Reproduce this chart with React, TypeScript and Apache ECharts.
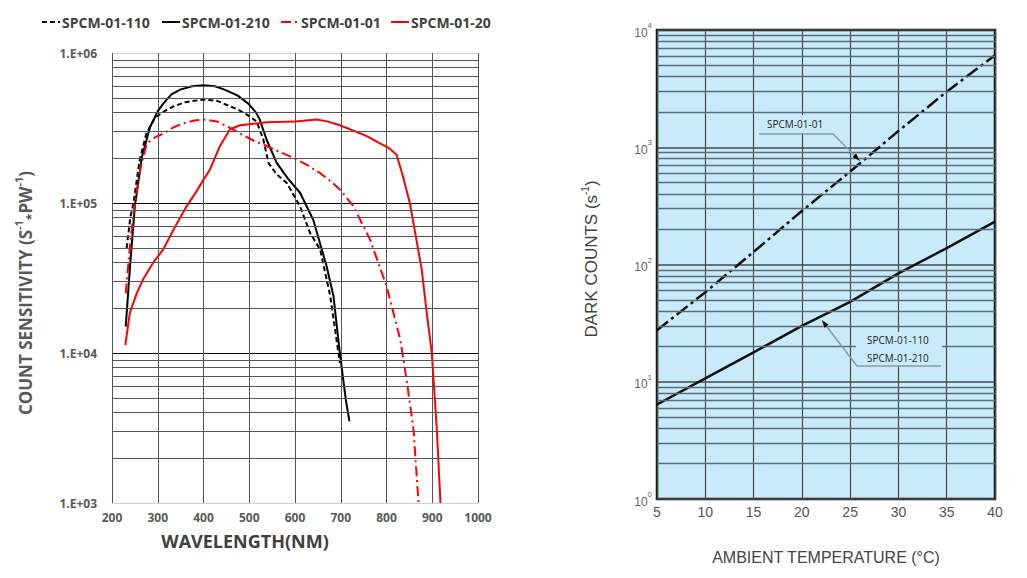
import React, { useEffect, useRef } from 'react';
import * as echarts from 'echarts';

// ---------- Left chart: count sensitivity vs wavelength ----------
const LEGEND_NAMES = ['SPCM-01-110', 'SPCM-01-210', 'SPCM-01-01', 'SPCM-01-20'];

const WL_110 = [232, 240, 247, 260, 275, 294, 315, 334, 360, 400, 430, 451, 475, 494, 516, 531, 542, 560, 582, 611, 633, 655, 677, 695, 698];
const CS_110 = [5.0e4, 8.0e4, 1.0e5, 1.9e5, 2.9e5, 3.7e5, 4.1e5, 4.4e5, 4.7e5, 4.9e5, 4.8e5, 4.5e5, 4.2e5, 3.9e5, 3.5e5, 2.64e5, 1.85e5, 1.55e5, 1.36e5, 9.5e4, 6.3e4, 4.9e4, 2.4e4, 1.0e4, 8.6e3];

const WL_210 = [230, 240, 250, 265, 283, 300, 312, 330, 349, 375, 400, 425, 446, 475, 498, 515, 523, 538, 560, 585, 611, 640, 669, 684, 698, 711, 719];
const CS_210 = [1.5e4, 4.0e4, 9.5e4, 2.0e5, 3.2e5, 4.1e5, 4.6e5, 5.3e5, 5.7e5, 6.0e5, 6.1e5, 6.0e5, 5.7e5, 5.2e5, 4.6e5, 4.0e5, 3.6e5, 2.64e5, 1.85e5, 1.45e5, 1.17e5, 7.7e4, 3.8e4, 2.4e4, 1.0e4, 4.9e3, 3.5e3];

const WL_01 = [230, 240, 250, 262, 276, 295, 312, 335, 356, 380, 400, 429, 455, 480, 510, 538, 565, 596, 625, 655, 680, 698, 728, 764, 800, 830, 844, 859, 870];
const CS_01 = [2.5e4, 5.5e4, 1.0e5, 1.7e5, 2.5e5, 2.75e5, 2.9e5, 3.2e5, 3.4e5, 3.55e5, 3.6e5, 3.5e5, 3.2e5, 2.9e5, 2.6e5, 2.4e5, 2.2e5, 2.0e5, 1.8e5, 1.58e5, 1.38e5, 1.23e5, 9.5e4, 5.7e4, 2.8e4, 1.23e4, 6.6e3, 3.1e3, 1.0e3];

const WL_20 = [229, 239, 254, 268, 290, 312, 334, 363, 385, 400, 414, 436, 458, 480, 538, 600, 647, 670, 698, 756, 807, 822, 836, 851, 864, 877, 888, 899, 910, 918];
const CS_20 = [1.13e4, 1.85e4, 2.5e4, 3.1e4, 4.0e4, 4.9e4, 6.6e4, 9.5e4, 1.2e5, 1.43e5, 1.67e5, 2.4e5, 3.1e5, 3.3e5, 3.45e5, 3.5e5, 3.6e5, 3.5e5, 3.3e5, 2.8e5, 2.3e5, 2.1e5, 1.5e5, 1.0e5, 6.0e4, 3.6e4, 1.85e4, 1.0e4, 3.1e3, 1.0e3];

const LEFT_DECADES = [1e3, 1e4, 1e5];

// ---------- Right chart: dark counts vs temperature ----------
const TEMP = [5, 10, 15, 20, 25, 30, 35, 40];
const DARK_01 = [27.5, 58, 128, 286, 620, 1375, 2980, 6100];
const DARK_110_210 = [6.4, 10.7, 17.8, 30, 48, 84, 138, 232];
const RIGHT_DECADES = [1, 10, 100, 1000];

const zip = (xs: number[], ys: number[]) => xs.map((x, i) => [x, ys[i]]);

const minorValues = (decades: number[]) => {
  const out: number[] = [];
  decades.forEach((d) => {
    for (let k = 2; k <= 9; k++) out.push(d * k);
  });
  return out;
};

const LF = 'Open Sans';
const RF = 'Liberation Sans';
const BG = '#c8eafa';

export default function App() {
  const ref = useRef<HTMLDivElement>(null);

  useEffect(() => {
    if (!ref.current) return;
    const chart = echarts.init(ref.current, undefined, { renderer: 'svg' });

    const legendX = [36, 156, 275, 385];
    const legends = LEGEND_NAMES.map((n, i) => ({
      data: [n],
      left: legendX[i],
      top: 10,
      itemWidth: 18,
      itemHeight: 12,
      itemGap: 0,
      selectedMode: false,
      itemStyle: { opacity: 0 },
      textStyle: { fontFamily: LF, fontWeight: 'bold', fontSize: 14, color: '#404040', padding: [0, 0, 0, -3] },
    }));

    const option: any = {
      animation: false,
      backgroundColor: '#ffffff',
      legend: legends,
      grid: [
        { left: 112, top: 53, width: 366, height: 450, show: false },
        { left: 657, top: 30, width: 338, height: 469, show: true, backgroundColor: BG, borderColor: '#111', borderWidth: 2.5 },
      ],
      xAxis: [
        {
          type: 'value', gridIndex: 0, min: 200, max: 1000, interval: 100,
          axisLine: { show: true, lineStyle: { color: '#d0d0d0', width: 1 } },
          axisTick: { show: false },
          axisLabel: {
            fontFamily: LF, fontWeight: 'bold', fontSize: 12, color: '#595959', margin: 8,
            formatter: (v: number) => String(v),
          },
          splitLine: { show: true, lineStyle: { color: '#555', width: 1 } },
        },
        {
          type: 'value', gridIndex: 1, min: 5, max: 40, interval: 5,
          axisLine: { show: false },
          axisTick: { show: false },
          axisLabel: { fontFamily: RF, fontSize: 14, color: '#555', margin: 6 },
          splitLine: { show: true, lineStyle: { color: '#4a4a4a', width: 1.2 } },
        },
      ],
      yAxis: [
        {
          type: 'log', logBase: 10, gridIndex: 0, min: 1000, max: 1e6,
          axisLine: { show: false },
          axisTick: { show: false },
          axisLabel: {
            fontFamily: LF, fontWeight: 'bold', fontSize: 12, color: '#595959', margin: 15,
            formatter: (v: number) => '1.E+0' + Math.round(Math.log10(v)),
          },
          splitLine: { show: true, lineStyle: { color: ['#d0d0d0', '#000', '#000', '#000'], width: 1.2 } },
        },
        {
          type: 'log', logBase: 10, gridIndex: 1, min: 1, max: 1e4,
          axisLine: { show: false },
          axisTick: { show: false },
          axisLabel: {
            margin: 5,
            formatter: (v: number) => '{b|10}{s|' + Math.round(Math.log10(v)) + '}',
            rich: {
              b: { fontFamily: RF, fontSize: 12, color: '#666', lineHeight: 17, verticalAlign: 'bottom' },
              s: { fontFamily: RF, fontSize: 8, color: '#666', lineHeight: 9, verticalAlign: 'top' },
            },
          },
          splitLine: { show: true, lineStyle: { color: '#4a4a4a', width: 1.5 } },
        },
      ],
      series: [
        {
          name: 'grid-minor-left', type: 'line', xAxisIndex: 0, yAxisIndex: 0, data: [], z: 1,
          silent: true,
          markLine: {
            silent: true, symbol: 'none', label: { show: false },
            lineStyle: { type: 'solid', color: '#555', width: 1 },
            data: minorValues(LEFT_DECADES).map((v) => ({ yAxis: v })),
          },
        },
        {
          name: 'grid-minor-right', type: 'line', xAxisIndex: 1, yAxisIndex: 1, data: [], z: 1,
          silent: true,
          markLine: {
            silent: true, symbol: 'none', label: { show: false },
            lineStyle: { type: 'solid', color: '#5d6d74', width: 1.3 },
            data: minorValues(RIGHT_DECADES).map((v) => ({ yAxis: v })),
          },
        },
        {
          name: LEGEND_NAMES[0], type: 'line', xAxisIndex: 0, yAxisIndex: 0, symbol: 'none', z: 3,
          data: zip(WL_110, CS_110),
          lineStyle: { color: '#000', width: 2, type: [5, 3] }, itemStyle: { color: '#000' },
        },
        {
          name: LEGEND_NAMES[1], type: 'line', xAxisIndex: 0, yAxisIndex: 0, symbol: 'none', z: 3,
          data: zip(WL_210, CS_210),
          lineStyle: { color: '#000', width: 2, type: 'solid' }, itemStyle: { color: '#000' },
        },
        {
          name: LEGEND_NAMES[2], type: 'line', xAxisIndex: 0, yAxisIndex: 0, symbol: 'none', z: 3,
          data: zip(WL_01, CS_01),
          lineStyle: { color: '#ff0000', width: 2, type: [10, 4, 2, 4] }, itemStyle: { color: '#ff0000' },
        },
        {
          name: LEGEND_NAMES[3], type: 'line', xAxisIndex: 0, yAxisIndex: 0, symbol: 'none', z: 3,
          data: zip(WL_20, CS_20),
          lineStyle: { color: '#ff0000', width: 2, type: 'solid' }, itemStyle: { color: '#ff0000' },
        },
        {
          name: 'dark-01-01', type: 'line', xAxisIndex: 1, yAxisIndex: 1, symbol: 'none', z: 3,
          data: zip(TEMP, DARK_01),
          lineStyle: { color: '#111', width: 2.5, type: [14, 4, 3, 4] },
        },
        {
          name: 'dark-01-110-210', type: 'line', xAxisIndex: 1, yAxisIndex: 1, symbol: 'none', z: 3,
          data: zip(TEMP, DARK_110_210),
          lineStyle: { color: '#111', width: 2.5, type: 'solid' },
        },
      ],
      graphic: [
        {
          type: 'text', x: 245, y: 541, z: 10,
          style: { text: 'WAVELENGTH(NM)', fontFamily: LF, fontWeight: 'bold', fontSize: 18, fill: '#404040', align: 'center', verticalAlign: 'middle' },
        },
        {
          type: 'text', x: 25, y: 293, rotation: Math.PI / 2, z: 10,
          style: {
            text: '{m|COUNT SENSITIVITY (S}{s|-1}{d|*}{m|PW}{s|-1}{m|)}',
            align: 'center', verticalAlign: 'middle',
            rich: {
              m: { fontFamily: LF, fontWeight: 'bold', fontSize: 17, fill: '#595959', lineHeight: 24, verticalAlign: 'middle' },
              s: { fontFamily: LF, fontWeight: 'bold', fontSize: 11, fill: '#595959', lineHeight: 12, verticalAlign: 'top' },
              d: { fontFamily: LF, fontWeight: 'bold', fontSize: 12, fill: '#595959', lineHeight: 12, verticalAlign: 'bottom' },
            },
          },
        },
        {
          type: 'text', x: 591, y: 259, rotation: Math.PI / 2, z: 10,
          style: {
            text: '{m|DARK COUNTS (s}{s|-1}{m|)}',
            align: 'center', verticalAlign: 'middle',
            rich: {
              m: { fontFamily: RF, fontSize: 17, fill: '#444', lineHeight: 22, verticalAlign: 'middle' },
              s: { fontFamily: RF, fontSize: 10, fill: '#444', lineHeight: 11, verticalAlign: 'top' },
            },
          },
        },
        {
          type: 'text', x: 826, y: 557, z: 10,
          style: { text: 'AMBIENT TEMPERATURE (°C)', fontFamily: RF, fontSize: 16, fill: '#444', align: 'center', verticalAlign: 'middle' },
        },
        // annotation SPCM-01-01
        { type: 'rect', z: 10, shape: { x: 758, y: 115, width: 78, height: 18 }, style: { fill: BG } },
        {
          type: 'text', x: 767, y: 124, z: 11,
          style: { text: 'SPCM-01-01', fontFamily: LF, fontSize: 10, fill: '#222', verticalAlign: 'middle' },
        },
        {
          type: 'polyline', z: 11, shape: { points: [[759, 134], [833, 134], [855, 156]] },
          style: { stroke: '#8a9ba3', lineWidth: 1.5, fill: 'none' },
        },
        {
          type: 'polygon', z: 11, shape: { points: [[860, 161], [852.6, 157.1], [856.1, 153.6]] },
          style: { fill: '#000' },
        },
        // annotation SPCM-01-110 / 210
        { type: 'rect', z: 10, shape: { x: 856, y: 332, width: 86, height: 34 }, style: { fill: BG } },
        {
          type: 'text', x: 867, y: 340, z: 11,
          style: { text: 'SPCM-01-110', fontFamily: LF, fontSize: 10, fill: '#222', verticalAlign: 'middle' },
        },
        {
          type: 'text', x: 867, y: 358, z: 11,
          style: { text: 'SPCM-01-210', fontFamily: LF, fontSize: 10, fill: '#222', verticalAlign: 'middle' },
        },
        {
          type: 'polyline', z: 11, shape: { points: [[941, 366], [857, 366], [825.5, 325]] },
          style: { stroke: '#8a9ba3', lineWidth: 1.5, fill: 'none' },
        },
        {
          type: 'polygon', z: 11, shape: { points: [[821.7, 320], [828.6, 324.8], [824.6, 327.8]] },
          style: { fill: '#000' },
        },
      ],
    };

    chart.setOption(option);
    return () => chart.dispose();
  }, []);

  return (
    <div
      ref={ref}
      style={{ position: 'fixed', left: 0, top: 0, width: 1027, height: 578, background: '#fff' }}
    />
  );
}
